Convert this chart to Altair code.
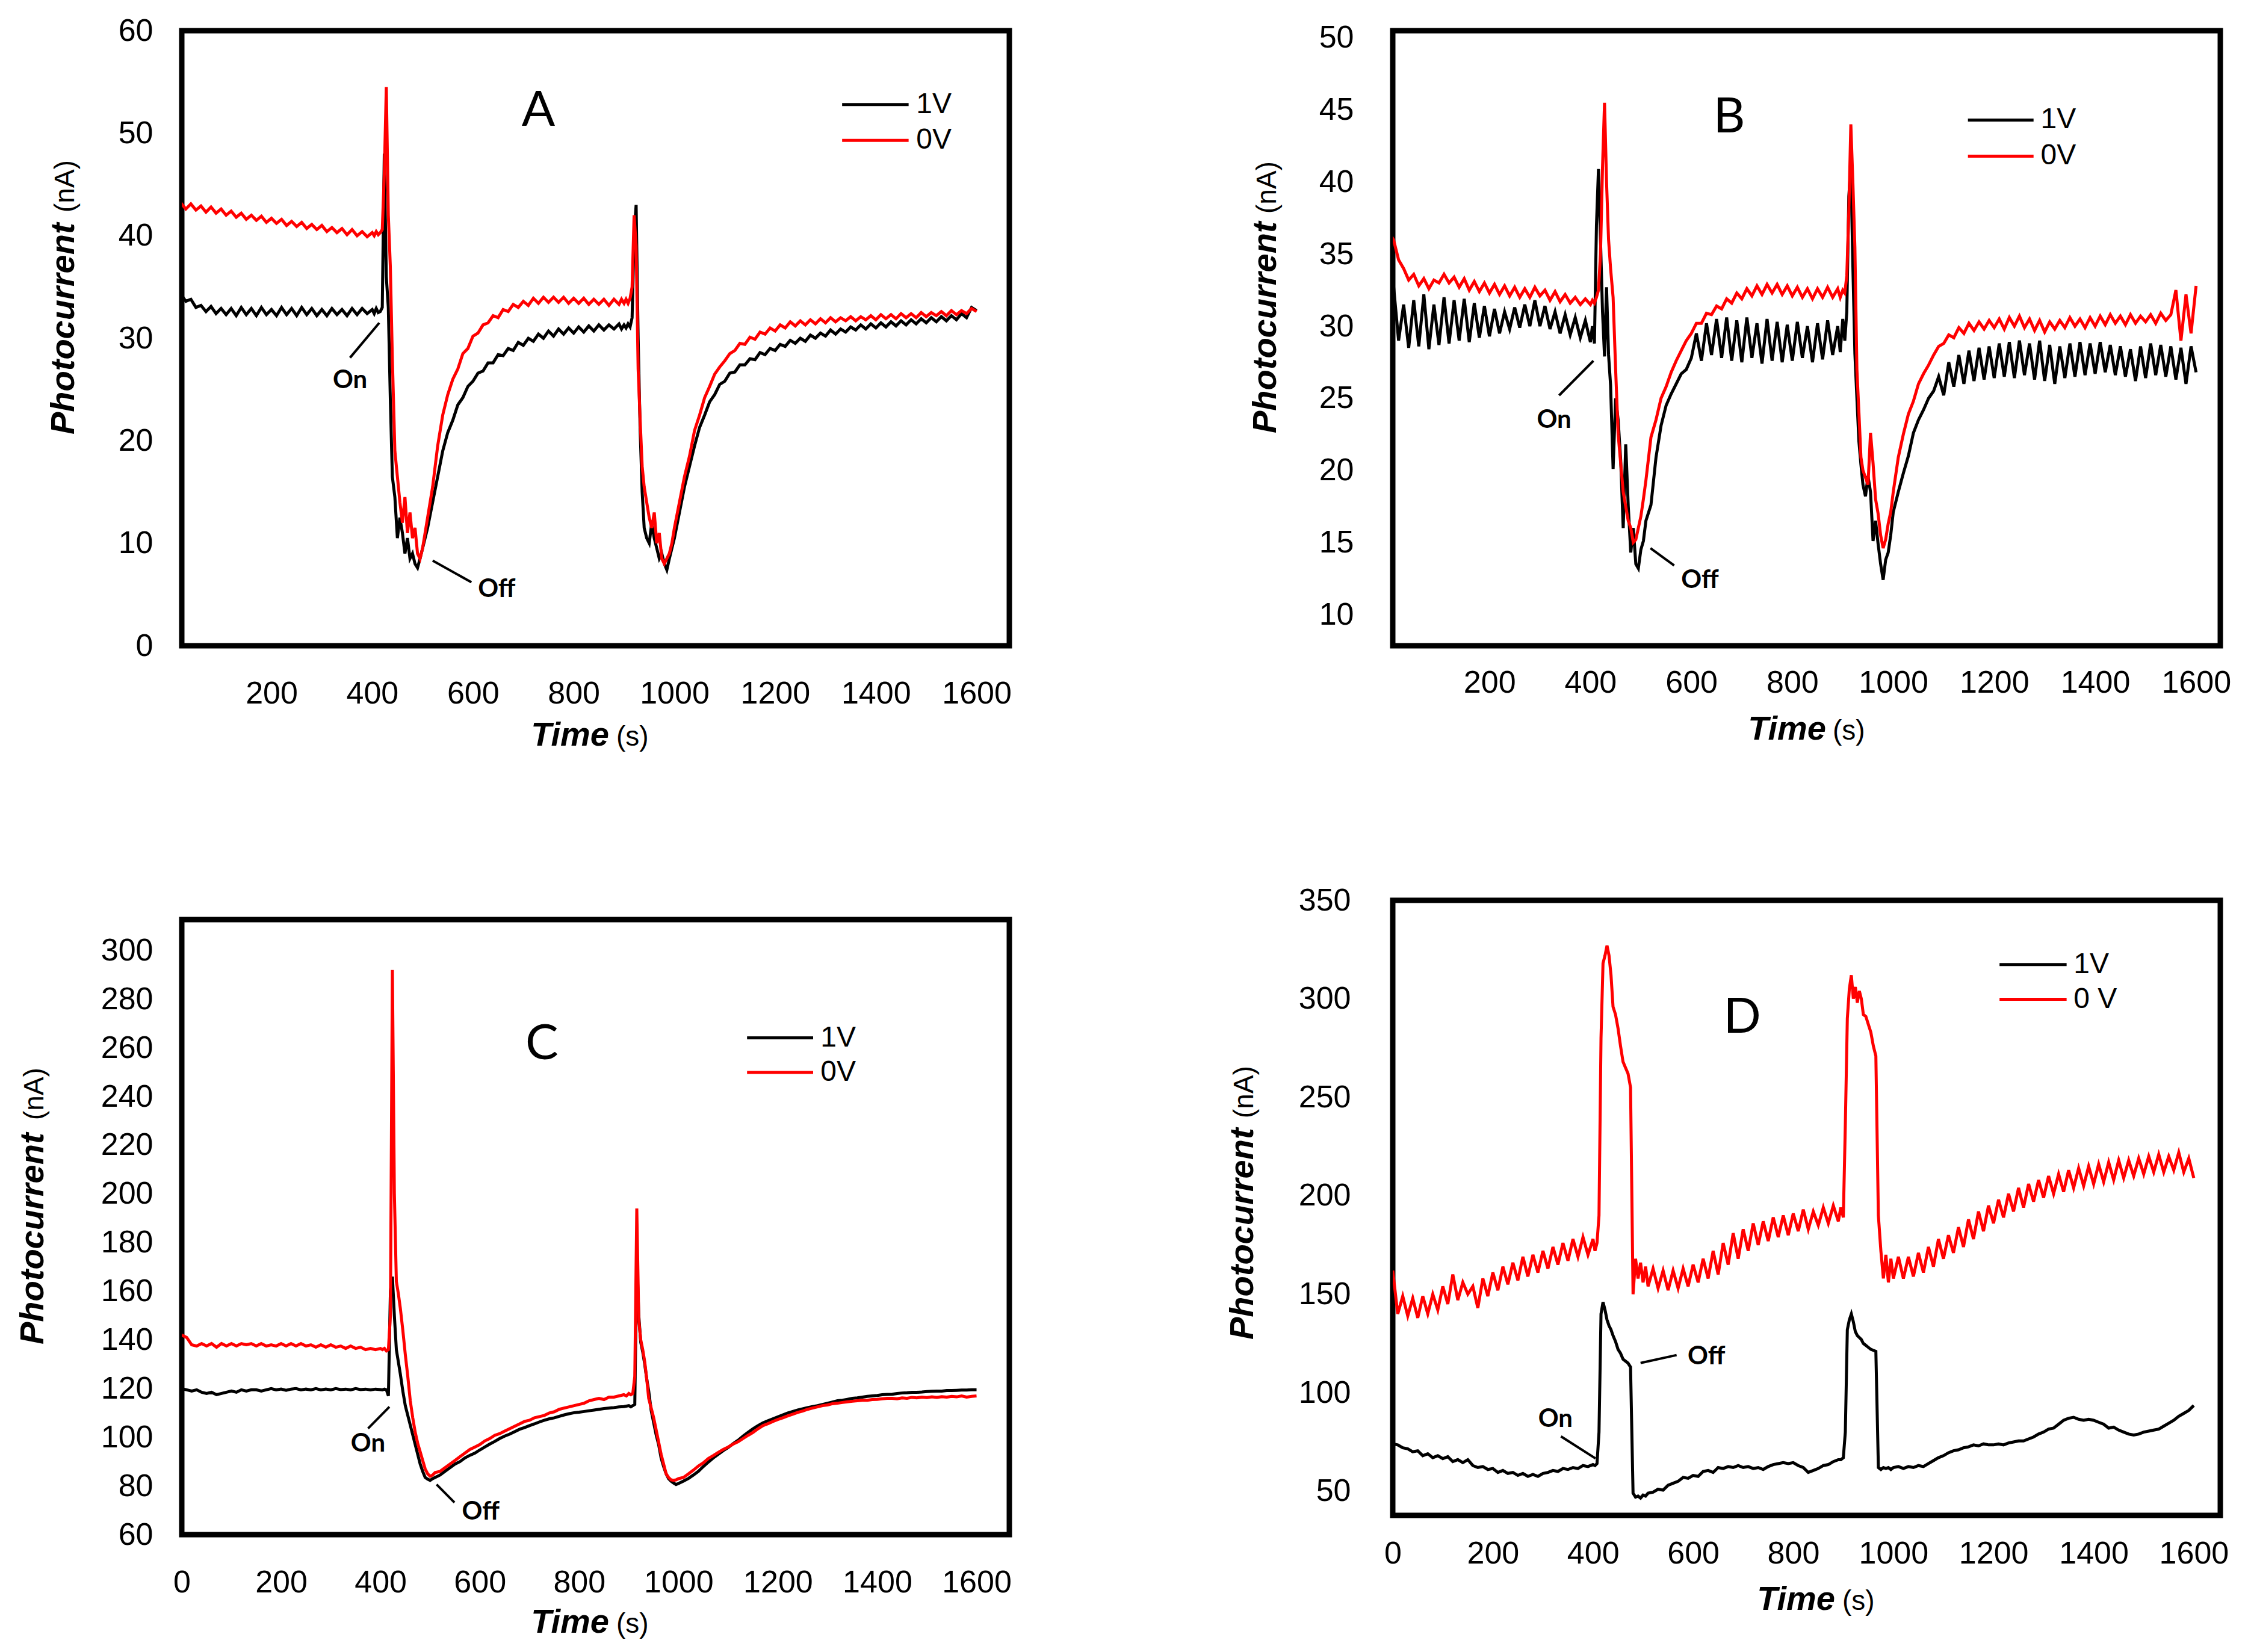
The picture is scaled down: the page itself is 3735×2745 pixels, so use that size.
import altair as alt
import pandas as pd

# sample times (s), shared by every trace
TIME = [
    0, 10, 20, 30, 40, 50, 60, 70, 80, 90,
    100, 110, 120, 130, 140, 150, 160, 170, 180, 190,
    200, 210, 220, 230, 240, 250, 260, 270, 280, 290,
    300, 310, 320, 330, 340, 350, 360, 370, 380, 390,
    400,
    404, 408, 412, 416, 420, 424, 428, 432, 436, 440,
    445, 450, 455, 460, 465, 470, 475, 480, 485, 490, 495, 500, 505, 510,
    520, 530, 540, 550, 560, 570, 580, 590, 600,
    610, 620, 630, 640, 650, 660, 670, 680, 690, 700,
    710, 720, 730, 740, 750, 760, 770, 780, 790, 800,
    810, 820, 830, 840, 850, 860, 870, 880, 890,
    895, 900,
    904, 908, 912, 916, 920, 924, 928, 932, 936, 940,
    945, 950, 955, 960, 965, 970, 975, 980, 985, 990, 995, 1000,
    1010,
    1020, 1030, 1040, 1050, 1060, 1070, 1080, 1090, 1100,
    1110, 1120, 1130, 1140, 1150, 1160, 1170, 1180, 1190, 1200,
    1210, 1220, 1230, 1240, 1250, 1260, 1270, 1280, 1290, 1300,
    1310, 1320, 1330, 1340, 1350, 1360, 1370, 1380, 1390, 1400,
    1410, 1420, 1430, 1440, 1450, 1460, 1470, 1480, 1490, 1500,
    1510, 1520, 1530, 1540, 1550, 1560, 1570, 1580, 1590, 1600,
]

# ---- panel A (nA)
A_1V = [
    34.5, 34.2, 34.3, 33.6, 33.8, 33.0, 33.2, 32.6, 33.1, 32.4,
    32.9, 32.3, 32.9, 32.2, 33.0, 32.3, 32.9, 32.2, 33.0, 32.3,
    32.8, 32.2, 33.0, 32.3, 32.9, 32.2, 33.0, 32.3, 32.9, 32.2,
    32.8, 32.2, 32.9, 32.3, 32.8, 32.2, 32.9, 32.3, 32.9, 32.4,
    32.8,
    32.4, 32.9, 32.5, 32.6, 33.0, 48.0, 36.0, 33.0, 24.0, 16.5,
    14.5, 10.5, 12.5, 11.0, 9.0, 10.5, 8.5, 9.0, 8.0, 7.6, 8.5, 9.5, 10.5, 11.5,
    14.0, 16.5, 19.0, 20.8, 22.0, 23.5, 24.2, 25.3, 25.8,
    26.6, 26.8, 27.6, 27.6, 28.4, 28.3, 29.0, 28.8, 29.6, 29.3,
    30.0, 29.7, 30.4, 30.0, 30.7, 30.2, 30.9, 30.4, 31.0, 30.5,
    31.1, 30.6, 31.2, 30.7, 31.3, 30.8, 31.3, 30.9, 31.4,
    30.9, 31.3,
    31.0, 31.4, 31.1, 32.0, 40.0, 43.0, 30.0, 21.0, 15.0, 11.5,
    10.5, 10.0, 12.0, 10.5, 9.5, 8.5, 9.0, 8.0, 7.4, 8.5, 9.5, 10.5,
    13.0,
    15.5, 17.5, 19.5, 21.3, 22.5, 23.8, 24.5, 25.5, 25.8,
    26.6, 26.7, 27.4, 27.4, 28.0, 27.9, 28.6, 28.4, 29.0, 28.8,
    29.4, 29.2, 29.8, 29.5, 30.0, 29.7, 30.3, 30.0, 30.5, 30.2,
    30.8, 30.4, 30.9, 30.6, 31.1, 30.8, 31.3, 30.9, 31.4, 31.0,
    31.5, 31.1, 31.6, 31.2, 31.7, 31.3, 31.8, 31.4, 31.9, 31.5,
    32.0, 31.6, 32.1, 31.7, 32.2, 31.8, 32.4, 32.0, 33.0, 32.7,
]
A_0V = [
    43.4, 43.0, 43.2, 42.6, 43.1, 42.5, 42.9, 42.3, 42.8, 42.2,
    42.6, 42.0, 42.4, 41.8, 42.2, 41.6, 42.0, 41.5, 41.9, 41.3,
    41.7, 41.2, 41.6, 41.0, 41.4, 40.9, 41.3, 40.7, 41.1, 40.6,
    41.0, 40.4, 40.8, 40.3, 40.7, 40.1, 40.6, 40.0, 40.4, 39.9,
    40.3,
    40.0, 40.4, 40.1, 40.3, 40.6, 46.0, 54.5, 42.0, 37.0, 28.0,
    19.0, 16.5, 14.0, 12.0, 14.5, 11.0, 13.0, 10.5, 11.5, 9.0, 8.5, 9.5, 11.0, 12.5,
    15.5, 19.5, 22.5, 24.5, 26.0, 27.0, 28.5, 29.0, 30.2,
    30.5, 31.3, 31.5, 32.2, 32.0, 32.8, 32.6, 33.3, 33.0, 33.6,
    33.2, 33.9, 33.4, 34.0, 33.5, 34.0, 33.5, 34.0, 33.4, 33.9,
    33.4, 33.9, 33.3, 33.8, 33.3, 33.8, 33.2, 33.8, 33.3,
    33.8, 33.4,
    33.8, 33.4, 33.9, 35.0, 42.0, 39.0, 27.0, 22.0, 17.5, 15.5,
    14.0, 12.5, 11.5, 13.0, 10.0, 11.0, 8.5, 8.0, 8.5, 9.0, 10.0, 11.5,
    14.0,
    16.5, 18.5, 21.0, 22.5, 24.2, 25.3, 26.5, 27.2, 27.8,
    28.5, 28.8, 29.5, 29.4, 30.1, 29.9, 30.6, 30.4, 31.0, 30.7,
    31.3, 31.0, 31.6, 31.2, 31.7, 31.3, 31.8, 31.4, 31.9, 31.5,
    32.0, 31.6, 32.0, 31.7, 32.1, 31.7, 32.1, 31.8, 32.2, 31.8,
    32.3, 31.9, 32.3, 31.9, 32.4, 32.0, 32.4, 32.0, 32.5, 32.1,
    32.5, 32.2, 32.6, 32.2, 32.7, 32.3, 32.7, 32.4, 32.9, 32.6,
]

# ---- panel B (nA)
B_1V = [
    32.0, 32.8, 29.0, 31.5, 28.5, 31.8, 28.6, 32.2, 28.4, 31.5,
    28.7, 32.0, 28.8, 31.8, 29.0, 31.9, 28.9, 31.6, 29.2, 31.4,
    29.3, 31.2, 29.5, 31.0, 29.8, 31.3, 29.9, 31.5, 30.0, 31.8,
    30.0, 31.4, 29.8, 31.0, 29.5, 30.8, 29.4, 30.6, 29.2, 30.4,
    28.9,
    30.0, 28.8, 37.0, 40.9, 36.0, 31.0, 27.9, 32.7, 28.0, 25.9,
    20.1, 25.0, 23.5, 20.7, 16.0, 21.8, 17.5, 14.3, 16.0, 13.5, 13.2, 14.5, 15.1, 16.5,
    17.6, 20.9, 23.1, 24.5, 25.3, 26.0, 26.7, 27.0, 27.8,
    29.5, 27.6, 30.2, 28.0, 30.5, 27.8, 30.6, 27.6, 30.4, 27.5,
    30.6, 27.8, 30.2, 27.4, 30.5, 27.6, 30.3, 27.5, 30.1, 27.6,
    30.3, 27.8, 30.0, 27.5, 30.2, 27.7, 30.4, 28.0, 30.0,
    28.2, 30.5,
    29.0, 31.0, 39.0, 41.1, 34.2, 28.1, 25.0, 22.0, 20.4, 19.0,
    18.2, 19.6, 18.5, 15.1, 16.5, 14.9, 13.5, 12.4, 13.8, 14.3, 15.5, 17.1,
    18.5,
    19.8, 21.0, 22.6, 23.5, 24.2, 25.0, 25.5, 26.5, 25.2,
    27.5, 25.8, 28.0, 26.0, 28.3, 26.2, 28.5, 26.3, 28.6, 26.4,
    28.8, 26.5, 28.9, 26.4, 29.0, 26.6, 28.8, 26.3, 29.0, 26.2,
    28.7, 26.0, 28.6, 26.4, 28.8, 26.5, 28.9, 26.6, 28.8, 26.7,
    28.9, 26.8, 28.7, 26.6, 28.6, 26.5, 28.4, 26.2, 28.6, 26.4,
    28.8, 26.6, 28.7, 26.5, 28.6, 26.3, 28.5, 26.0, 28.6, 26.8,
]
B_0V = [
    36.5, 36.0, 34.6, 34.0, 33.2, 33.6, 32.8, 33.3, 32.6, 33.2,
    33.0, 33.6, 33.0, 33.4, 32.7, 33.3, 32.5, 33.1, 32.4, 33.0,
    32.3, 32.9, 32.2, 32.8, 32.1, 32.7, 32.0, 32.6, 32.0, 32.7,
    32.1, 32.5, 31.8, 32.4, 31.7, 32.2, 31.6, 32.0, 31.5, 31.9,
    31.5,
    31.8, 31.6, 32.0, 32.5, 35.0, 41.0, 45.5, 40.0, 36.0, 34.0,
    32.0, 27.0, 22.5, 20.5, 18.5, 17.5, 16.5, 16.0, 15.0, 15.2, 16.0, 16.8, 18.0, 19.3,
    22.3, 23.5, 25.0, 25.8, 26.8, 27.6, 28.3, 29.0, 29.5,
    30.2, 30.2, 30.9, 30.8, 31.4, 31.2, 31.9, 31.6, 32.3, 31.9,
    32.6, 32.1, 32.8, 32.2, 32.9, 32.3, 32.9, 32.2, 32.8, 32.1,
    32.7, 32.0, 32.6, 31.9, 32.6, 32.0, 32.7, 32.0, 32.6,
    32.0, 32.5,
    32.3, 33.5, 38.0, 44.0, 40.0, 35.5, 27.0, 24.0, 20.9, 20.0,
    19.5, 19.0, 22.6, 20.5, 18.0, 17.0, 15.5, 14.6, 15.2, 16.3, 17.1, 18.5,
    20.9,
    22.5, 23.9, 24.8, 26.0, 26.7, 27.3, 28.0, 28.6, 28.8,
    29.4, 29.2, 29.9, 29.5, 30.2, 29.7, 30.3, 29.8, 30.4, 29.9,
    30.5, 29.8, 30.6, 30.0, 30.7, 29.9, 30.5, 29.7, 30.4, 29.6,
    30.3, 29.8, 30.4, 29.9, 30.6, 30.0, 30.5, 29.9, 30.6, 30.0,
    30.7, 30.1, 30.8, 30.2, 30.7, 30.1, 30.8, 30.2, 30.7, 30.3,
    30.8, 30.2, 30.9, 30.4, 30.8, 32.5, 29.0, 32.2, 29.5, 32.8,
]

# ---- panel C (nA)
C_1V = [
    120, 119.5, 119, 119.5, 118.5, 118, 118.5, 117.5, 118, 118.5,
    119, 118.5, 119.5, 119, 119.5, 119.5, 119, 119.5, 120, 119.5,
    119.8, 119.3, 119.8, 120, 119.5, 119.8, 119.5, 120, 119.5, 119.8,
    119.5, 120, 119.6, 119.8, 119.5, 120, 119.6, 119.8, 119.5, 119.8,
    119.6,
    119.5, 119.8, 119.5, 117, 160, 166, 150, 136, 131, 126,
    119, 113, 109, 105, 101, 97, 93, 89, 86, 83.5, 82.8, 82.3, 83, 83.5,
    84.5, 86, 87.5, 89, 90, 91.5, 92.6, 93.5, 94.8,
    96, 97.2, 98.3, 99.5, 100.5, 101.3, 102.3, 103.3, 104, 104.8,
    105.5, 106.3, 107, 107.6, 108, 108.6, 109.2, 109.7, 110.1, 110.3,
    110.6, 110.9, 111.2, 111.5, 111.8, 112, 112.2, 112.5, 112.6,
    112.8, 113,
    112.5, 113, 113.5, 174, 150, 139, 135, 130, 124, 119,
    111, 106, 101, 97, 91.5, 88, 85, 83, 82, 81.2, 80.6, 81,
    82,
    83.1, 84.5, 86, 88, 89.8, 91.5, 93, 94.5, 95.8,
    97.4, 98.8, 100.5, 102, 103.5, 104.8, 105.9, 106.8, 107.6, 108.4,
    109.2, 110, 110.6, 111.2, 111.7, 112.2, 112.6, 113, 113.5, 114,
    114.5, 115, 115.2, 115.6, 116, 116.2, 116.5, 116.8, 117, 117.2,
    117.5, 117.6, 117.7, 118, 118.2, 118.3, 118.5, 118.5, 118.6, 118.8,
    118.9, 119, 119, 119.2, 119.2, 119.3, 119.4, 119.4, 119.5, 119.5,
]
C_0V = [
    142, 141, 138, 137.5, 138.5, 137.5, 138.5, 137, 138.5, 137.5,
    138.5, 137.5, 138.5, 138, 138.5, 137.5, 138.5, 137.5, 138, 137.5,
    138.5, 137.5, 138.5, 137.5, 138.5, 137.5, 138, 137, 138, 137,
    138, 137, 137.5, 136.5, 137.5, 136.5, 137, 136, 136.5, 136,
    136.5,
    136, 136.5, 135.5, 136, 150, 292, 200, 164, 159, 153,
    144, 134, 125, 115, 108, 102, 97.5, 94, 90.5, 87, 85, 84, 84.5, 85.5,
    86, 87.5, 89, 90.5, 92, 93.5, 95, 96, 97,
    98.5, 99.5, 100.8, 101.5, 102.5, 103.5, 104.5, 105.5, 106.5, 107,
    108, 108.5, 109, 110, 110.5, 111.5, 112, 112.5, 113, 113.5,
    114, 115, 115.5, 116, 115.5, 116.5, 116.5, 117, 117.5,
    117, 118,
    117.5, 118, 125, 194, 148, 140, 136, 131, 124, 116,
    112, 108, 103, 98, 93, 89, 85, 83.5, 82.5, 82.3, 82.5, 83,
    83.5,
    85, 86.5, 88.2, 89.5, 91.3, 92.5, 93.8, 95, 96,
    97.2, 98.2, 99.5, 100.8, 102, 103.5, 104.8, 105.6, 106.5, 107.3,
    108, 108.8, 109.5, 110.2, 110.8, 111.5, 112, 112.5, 113, 113.3,
    113.8, 114, 114.3, 114.6, 114.8, 115, 115.2, 115.2, 115.5, 115.6,
    115.8, 116, 116, 115.8, 116.2, 116, 116.4, 116.2, 116.5, 116.3,
    116.6, 116.4, 116.7, 116.5, 116.8, 116.6, 117, 116.5, 116.8, 117,
]

# ---- panel D (nA)
D_1V = [
    74, 73.5, 72, 71.5, 70, 70.5, 68, 69, 67, 68,
    66.5, 67.5, 65, 66, 64.5, 66, 63, 62, 62.5, 61,
    61.5, 59.5, 60.5, 59, 59.5, 58, 59, 57.5, 58.5, 57.5,
    59, 59.5, 60.5, 60, 61.5, 61, 62, 61.5, 63, 62.5,
    63.5,
    63, 64, 80, 140, 146, 142, 137, 134, 132, 129,
    126, 122, 120, 117, 116, 115, 113, 49, 47, 47.5, 46.5, 48, 47.5, 49,
    49.5, 51, 50.5, 53, 54, 55, 57, 56.5, 58,
    57.5, 60, 60.5, 59.5, 62, 61.5, 62.5, 62, 63, 62,
    62.5, 61.5, 62, 61, 62.5, 63.5, 64, 64.5, 64, 64.5,
    63, 62, 59.5, 60.5, 61.5, 63, 63.5, 65, 66,
    66, 67,
    80, 132, 137, 140, 136, 131, 129, 128, 127, 125,
    124, 123, 122, 121.5, 121, 62, 61, 62, 61.5, 62, 61, 62,
    62.5,
    61.5, 62.5, 62, 63, 62.5, 64, 65.5, 67, 68,
    69.5, 70.5, 71, 72, 72.5, 73.5, 73, 74, 73.5, 73.5,
    74, 73.5, 74.5, 75, 75.5, 75.5, 76.5, 77.5, 79, 80,
    81.5, 82, 84, 86, 87, 87.5, 86.5, 86, 86.5, 86,
    85, 84, 82, 82.5, 81, 80, 79, 78.5, 79, 80,
    80.5, 81, 81.5, 83, 84.5, 86, 88, 89.5, 91, 93.5,
]
D_0V = [
    162, 140, 149, 139, 148, 138, 149, 140, 150, 142,
    154, 145, 160, 147, 156, 150, 154, 143, 158, 149,
    161, 152, 164, 155, 166, 157, 169, 159, 170, 161,
    172, 163, 174, 165, 176, 167, 178, 169, 179, 170,
    178,
    172, 176, 190, 280, 318, 322, 327, 322, 312, 296,
    292, 285, 276, 268, 265, 262, 255, 150, 168, 158, 166, 156, 164, 154,
    163, 153, 162, 152, 162, 153, 163, 154, 165,
    156, 168, 158, 172, 160, 176, 165, 181, 168, 183,
    172, 186, 175, 187, 177, 189, 179, 190, 180, 191,
    182, 193, 183, 192, 185, 194, 186, 195, 187,
    194, 189,
    236, 290, 305, 312, 300, 306, 298, 304, 300, 292,
    291, 287, 283, 276, 271, 190, 172, 158, 170, 156, 168, 158,
    169,
    158, 169, 159, 171, 161, 174, 164, 178, 168,
    180, 171, 184, 174, 188, 178, 192, 182, 195, 186,
    198, 189, 201, 192, 204, 194, 206, 197, 208, 199,
    210, 201, 211, 202, 213, 204, 214, 205, 215, 206,
    216, 207, 217, 208, 218, 209, 218, 210, 219, 211,
    220, 212, 221, 212, 220, 213, 222, 212, 219, 209,
]

SERIES = ["1V", "0V"]
COLORS = ["#000000", "#ff0000"]

# axis ticks / domains per panel
X_TICKS_AB = [200, 400, 600, 800, 1000, 1200, 1400, 1600]
X_TICKS_CD = [0, 200, 400, 600, 800, 1000, 1200, 1400, 1600]
Y_TICKS_A = [0, 10, 20, 30, 40, 50, 60]
Y_TICKS_B = [10, 15, 20, 25, 30, 35, 40, 45, 50]
Y_TICKS_C = [60, 80, 100, 120, 140, 160, 180, 200, 220, 240, 260, 280, 300]
Y_TICKS_D = [50, 100, 150, 200, 250, 300, 350]

FONT = "Liberation Sans"
LETTER_FONT = "Lato"
W, H = 1375, 1022

PANELS = {
    "A": dict(v1=A_1V, v0=A_0V, legend=["1V", "0V"],
              xdom=[21.9, 1665], ydom=[0, 60], xt=X_TICKS_AB, yt=Y_TICKS_A,
              letter=(730, 52.2), leg_t=(1333, 1465, 1480), leg_v=(52.8, 49.3),
              on_line=(414, 31.5, 356, 28.1), on_txt=(356, 25.9),
              off_line=(520, 8.3, 597, 6.2), off_txt=(610, 5.5),
              ylab_pad=48, xlab_pad=54, ytitle=(-179, 671, 302), xtitle=(710, 722, 1188)),
    "B": dict(v1=B_1V, v0=B_0V, legend=["1V", "0V"],
              xdom=[8.4, 1648], ydom=[7.83, 50.5], xt=X_TICKS_AB, yt=Y_TICKS_B,
              letter=(675, 44.5), leg_t=(1148, 1278, 1292), leg_v=(44.3, 41.8),
              on_line=(406, 27.6, 338, 25.2), on_txt=(328, 23.5),
              off_line=(519, 14.6, 566, 13.4), off_txt=(580, 12.4),
              ylab_pad=65, xlab_pad=36, ytitle=(-194, 669, 304), xtitle=(720, 731, 1178)),
    "C": dict(v1=C_1V, v0=C_0V, legend=["1V", "0V"],
              xdom=[0, 1666], ydom=[60, 312.7], xt=X_TICKS_CD, yt=Y_TICKS_C,
              letter=(725, 261.4), leg_t=(1138, 1271, 1286), leg_v=(264.1, 249.9),
              on_line=(418, 112.5, 375, 103.6), on_txt=(375, 97.3),
              off_line=(513, 80.6, 549, 73.2), off_txt=(564, 69.5),
              ylab_pad=48, xlab_pad=54, ytitle=(-230, 706, 333), xtitle=(710, 722, 1185)),
    "D": dict(v1=D_1V, v0=D_0V, legend=["1V", "0 V"],
              xdom=[0, 1653], ydom=[37.7, 350], xt=X_TICKS_CD, yt=Y_TICKS_D,
              letter=(698, 290.3), leg_t=(1212, 1346, 1360), leg_v=(317.4, 299.7),
              on_line=(405, 66.6, 336, 77.8), on_txt=(325, 86.6),
              off_line=(495, 115.1, 567, 119.1), off_txt=(589, 118.5),
              ylab_pad=70, xlab_pad=38, ytitle=(-232, 730, 362), xtitle=(735, 747, 1179)),
}

ONE = pd.DataFrame({"k": [0]})


def make_panel(key):
    p = PANELS[key]
    for s in (p["v1"], p["v0"]):
        assert len(s) == len(TIME), (key, len(s), len(TIME))

    df = pd.DataFrame({
        "t": TIME + TIME,
        "v": p["v1"] + p["v0"],
        "series": [SERIES[0]] * len(TIME) + [SERIES[1]] * len(TIME),
    })

    x = alt.X("t:Q", scale=alt.Scale(domain=p["xdom"], nice=False, zero=False),
              axis=alt.Axis(values=p["xt"], format="d", title=None, grid=False, ticks=False, domain=False,
                            labelFont=FONT, labelFontSize=52, labelColor="black",
                            labelPadding=p["xlab_pad"], labelFlush=False, labelOverlap=False))
    y = alt.Y("v:Q", scale=alt.Scale(domain=p["ydom"], nice=False, zero=False),
              axis=alt.Axis(values=p["yt"], format="d", title=None, grid=False, ticks=False, domain=False,
                            labelFont=FONT, labelFontSize=52, labelColor="black",
                            labelPadding=p["ylab_pad"], labelFlush=False, labelOverlap=False))

    lines = alt.Chart(df).mark_line(strokeWidth=5, clip=True).encode(
        x=x, y=y,
        color=alt.Color("series:N", scale=alt.Scale(domain=SERIES, range=COLORS), legend=None),
        order=alt.Order("t:Q"),
    )

    # panel letter
    letter = alt.Chart(pd.DataFrame({"t": [p["letter"][0]], "v": [p["letter"][1]], "lab": [key]})).mark_text(
        font=LETTER_FONT, fontSize=82, align="center", baseline="middle", color="black"
    ).encode(x=x, y=y, text="lab:N")

    # legend drawn inside the plot
    t1, t2, tt = p["leg_t"]
    leg_df = pd.DataFrame({"t": [t1, t1], "t2": [t2, t2], "tt": [tt, tt],
                           "v": list(p["leg_v"]), "series": SERIES, "lab": p["legend"]})
    leg_lines = alt.Chart(leg_df).mark_rule(strokeWidth=5).encode(
        x=x, x2="t2:Q", y=y,
        color=alt.Color("series:N", scale=alt.Scale(domain=SERIES, range=COLORS), legend=None),
    )
    leg_text = alt.Chart(leg_df).mark_text(
        font=FONT, fontSize=48, align="left", baseline="middle", color="black"
    ).encode(x=alt.X("tt:Q"), y=y, text="lab:N")

    # On / Off pointers
    ptr_df = pd.DataFrame({
        "t": [p["on_line"][0], p["off_line"][0]], "v": [p["on_line"][1], p["off_line"][1]],
        "t2": [p["on_line"][2], p["off_line"][2]], "v2": [p["on_line"][3], p["off_line"][3]],
    })
    ptrs = alt.Chart(ptr_df).mark_rule(strokeWidth=4, color="black").encode(
        x=x, y=y, x2="t2:Q", y2="v2:Q")
    on_txt = alt.Chart(pd.DataFrame({"t": [p["on_txt"][0]], "v": [p["on_txt"][1]], "lab": ["On"]})).mark_text(
        font=LETTER_FONT, fontWeight="bold", fontSize=42, align="center", baseline="middle", color="black"
    ).encode(x=x, y=y, text="lab:N")
    off_txt = alt.Chart(pd.DataFrame({"t": [p["off_txt"][0]], "v": [p["off_txt"][1]], "lab": ["Off"]})).mark_text(
        font=LETTER_FONT, fontWeight="bold", fontSize=42, align="left", baseline="middle", color="black"
    ).encode(x=x, y=y, text="lab:N")

    # axis titles (bold italic name + plain unit)
    yx, y_start, unit_start = p["ytitle"]
    ytitle = alt.Chart(ONE).mark_text(
        font=FONT, fontSize=56, fontStyle="italic", fontWeight="bold", angle=270,
        align="left", baseline="alphabetic", color="black"
    ).encode(x=alt.value(yx), y=alt.value(y_start), text=alt.value("Photocurrent"))
    yunit = alt.Chart(ONE).mark_text(
        font=FONT, fontSize=46, angle=270, align="left", baseline="alphabetic", color="black"
    ).encode(x=alt.value(yx), y=alt.value(unit_start), text=alt.value("(nA)"))

    name_end, unit_x, base_y = p["xtitle"]
    xtitle = alt.Chart(ONE).mark_text(
        font=FONT, fontSize=56, fontStyle="italic", fontWeight="bold",
        align="right", baseline="alphabetic", color="black"
    ).encode(x=alt.value(name_end), y=alt.value(base_y), text=alt.value("Time"))
    xunit = alt.Chart(ONE).mark_text(
        font=FONT, fontSize=46, align="left", baseline="alphabetic", color="black"
    ).encode(x=alt.value(unit_x), y=alt.value(base_y), text=alt.value("(s)"))

    return alt.layer(lines, leg_lines, leg_text, letter, ptrs, on_txt, off_txt,
                     ytitle, yunit, xtitle, xunit).properties(width=W, height=H)


left = alt.vconcat(make_panel("A"), make_panel("C"), spacing=455, bounds="flush")
right = alt.vconcat(make_panel("B"), make_panel("D"), spacing=423, bounds="flush")

# with flush bounds the nested column counts as zero width, so the spacing
# spans the left panel plus the gap between the two plot boxes
chart = alt.hconcat(left, right, spacing=W + 637, bounds="flush").properties(
    padding={"left": 14, "top": 12, "right": 5, "bottom": 5},
    background="white",
).configure_view(
    stroke="black", strokeWidth=9
)

chart.save("out.html", embed_options={"renderer": "svg", "actions": False})
